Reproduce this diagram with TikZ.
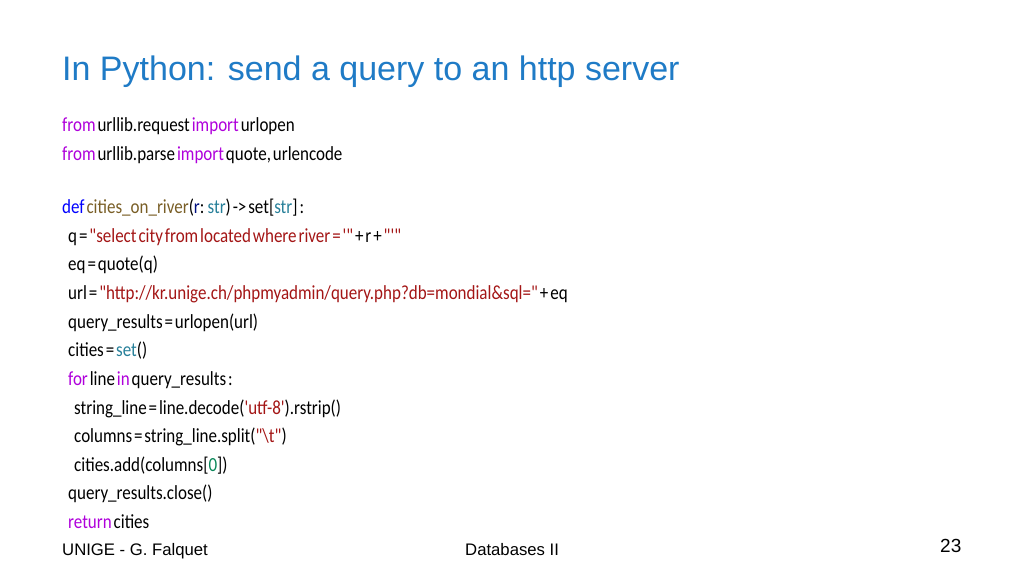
\documentclass[tikz,border=0pt]{standalone}
\usepackage{fontspec}
\setmainfont{Liberation Sans}
\newfontfamily\codefont[FakeStretch=0.85,WordSpace=0.5]{Carlito}
\definecolor{titleblue}{HTML}{1F7BC6}
\definecolor{kwpurple}{HTML}{AF00DB}
\definecolor{kwblue}{HTML}{0000FF}
\definecolor{fnbrown}{HTML}{795E26}
\definecolor{varblue}{HTML}{001080}
\definecolor{typeteal}{HTML}{267F99}
\definecolor{strred}{HTML}{A31515}
\definecolor{numgreen}{HTML}{098658}
\newcommand{\kw}[1]{\textcolor{kwpurple}{#1}}
\newcommand{\st}[1]{\textcolor{strred}{#1}}
\newcommand{\ty}[1]{\textcolor{typeteal}{#1}}
\begin{document}
\begin{tikzpicture}[x=1pt,y=-1pt,
  code/.style={anchor=base west,inner sep=0pt,font=\codefont\fontsize{20}{20}\selectfont},
  foot/.style={anchor=base west,inner sep=0pt,font=\fontsize{16.7}{16.7}\selectfont}]
\useasboundingbox (0,0) rectangle (1024,576);
\node[anchor=base west,inner sep=0pt,text=titleblue,font=\fontsize{34}{34}\selectfont] (title) at (62,80) {In Python: send a query to an http server};

\node[code] (l1) at (62,131) {\kw{from} urllib.request \kw{import} urlopen};
\node[code] (l2) at (62,160) {\kw{from} urllib.parse \kw{import} quote, urlencode};

\node[code] (l3) at (62,213) {\textcolor{kwblue}{def} \textcolor{fnbrown}{cities\_on\_river}(\textcolor{varblue}{r}: \ty{str}) -> set[\ty{str}] :};
\node[code] (l4) at (68,242) {q = \st{"select city from located where river = '"} + r + \st{"'"}};
\node[code] (l5) at (68,270) {eq = quote(q)};
\node[code] (l6) at (68,299) {url = \st{"http://kr.unige.ch/phpmyadmin/query.php?db=mondial\&sql="} + eq};
\node[code] (l7) at (68,328) {query\_results = urlopen(url)};
\node[code] (l8) at (68,356) {cities = \ty{set}()};
\node[code] (l9) at (68,385) {\kw{for} line \kw{in} query\_results :};
\node[code] (l10) at (74,414) {string\_line = line.decode(\st{'utf-8'}).rstrip()};
\node[code] (l11) at (74,442) {columns = string\_line.split(\st{"\textbackslash t"})};
\node[code] (l12) at (74,471) {cities.add(columns[\textcolor{numgreen}{0}])};
\node[code] (l13) at (68,499) {query\_results.close()};
\node[code] (l14) at (68,528) {\kw{return} cities};

\node[foot] (author) at (62,555) {UNIGE - G. Falquet};
\node[foot] (course) at (465,555) {Databases II};
\node[anchor=base west,inner sep=0pt,font=\fontsize{19}{19}\selectfont] (page) at (940,552) {23};
\end{tikzpicture}
\end{document}
